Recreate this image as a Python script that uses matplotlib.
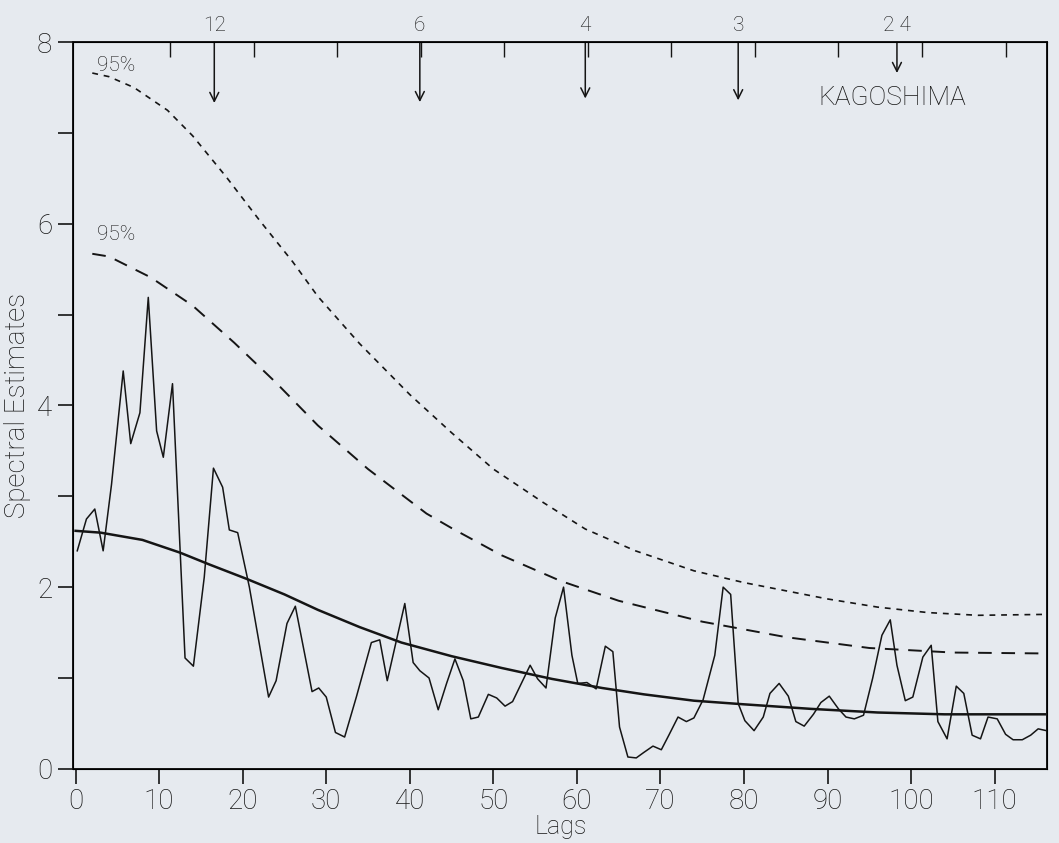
import matplotlib
matplotlib.use("Agg")
import matplotlib.pyplot as plt

# spectrum (jagged line)
spec_lag = [0.2, 1.3, 2.3, 3.3, 4.3, 5.7, 6.6, 7.7, 8.7, 9.7, 10.5, 11.6, 13.1, 14.1, 15.4,
            16.5, 17.6, 18.4, 19.4, 20.8, 23.1, 24.0, 25.3, 26.3, 28.3, 29.1, 30.0, 31.1,
            32.2, 33.6, 35.4, 36.4, 37.3, 39.4, 40.4, 41.2, 42.3, 43.4, 44.4, 45.4, 46.4,
            47.3, 48.2, 49.4, 50.4, 51.4, 52.3, 54.4, 55.3, 56.3, 57.4, 58.4, 59.4, 60.1,
            61.2, 62.3, 63.4, 64.3, 65.1, 66.1, 67.1, 68.0, 69.1, 70.1, 71.0, 72.1, 73.1,
            74.0, 75.1, 76.5, 77.5, 78.4, 79.3, 80.1, 81.2, 82.3, 83.1, 84.2, 85.3, 86.2,
            87.2, 88.3, 89.2, 90.2, 91.3, 92.2, 93.2, 94.3, 95.4, 96.5, 97.5, 98.3, 99.3,
            100.2, 101.4, 102.4, 103.2, 104.3, 105.4, 106.3, 107.3, 108.3, 109.2, 110.3,
            111.3, 112.2, 113.3, 114.3, 115.2, 116.2]
spec_val = [2.40, 2.75, 2.86, 2.40, 3.13, 4.38, 3.58, 3.92, 5.19, 3.72, 3.43, 4.24, 1.22, 1.13, 2.11,
            3.31, 3.10, 2.63, 2.60, 2.00, 0.79, 0.97, 1.60, 1.79, 0.85, 0.89, 0.79, 0.40,
            0.35, 0.79, 1.39, 1.42, 0.97, 1.82, 1.17, 1.08, 1.00, 0.65, 0.94, 1.21, 0.97,
            0.55, 0.57, 0.82, 0.78, 0.69, 0.74, 1.14, 0.99, 0.89, 1.66, 2.00, 1.25, 0.94,
            0.95, 0.88, 1.35, 1.29, 0.46, 0.13, 0.12, 0.18, 0.25, 0.21, 0.37, 0.57, 0.52,
            0.56, 0.76, 1.25, 2.00, 1.92, 0.72, 0.53, 0.42, 0.57, 0.83, 0.94, 0.80, 0.52,
            0.47, 0.60, 0.73, 0.80, 0.66, 0.57, 0.55, 0.59, 1.00, 1.47, 1.64, 1.14, 0.75,
            0.79, 1.23, 1.36, 0.52, 0.33, 0.91, 0.83, 0.37, 0.33, 0.57, 0.55,
            0.38, 0.32, 0.32, 0.37, 0.44, 0.42]

# smooth background spectrum
bg_lag = [0, 3, 8, 12.5, 16, 20.5, 25, 29, 34, 39, 45, 51, 57, 63, 68, 74, 80, 88, 96, 104, 116]
bg_val = [2.62, 2.60, 2.52, 2.38, 2.25, 2.09, 1.92, 1.75, 1.56, 1.39, 1.24, 1.11, 0.99, 0.89,
          0.82, 0.75, 0.71, 0.66, 0.62, 0.60, 0.60]

# confidence limits
c_lo_lag = [2, 4, 9, 14, 19, 24, 29, 35, 42, 45, 51, 58, 65, 75, 85, 95, 105, 116]
c_lo_val = [5.67, 5.64, 5.41, 5.10, 4.69, 4.25, 3.78, 3.30, 2.81, 2.65, 2.35, 2.07, 1.85,
            1.62, 1.45, 1.33, 1.28, 1.27]
c_hi_lag = [2, 4, 7, 11, 14, 18, 22, 26, 29, 34, 40, 45, 50, 56, 61, 67, 74, 80, 85, 90, 96,
            102, 108, 116]
c_hi_val = [7.66, 7.62, 7.50, 7.25, 6.97, 6.52, 6.04, 5.58, 5.20, 4.68, 4.12, 3.70, 3.30,
            2.93, 2.64, 2.40, 2.18, 2.05, 1.96, 1.87, 1.78, 1.72, 1.69, 1.70]

# period marks along the top
period_lag = [16.6, 41.2, 61.0, 79.3, 98.3]
period_tip = [7.33, 7.34, 7.38, 7.36, 7.66]
period_txt = ["12", "6", "4", "3", "2 4"]
top_ticks = [11.3, 21.3, 31.3, 41.3, 51.3, 61.3, 71.3, 81.3, 91.3, 101.3, 111.3]

bg = "#e6eaef"
ink = "#151515"
plt.rcParams["font.family"] = ["Roboto", "DejaVu Sans"]
plt.rcParams["font.weight"] = "light"
plt.rcParams["axes.labelweight"] = "light"

fig = plt.figure(figsize=(10.59, 8.43), dpi=100, facecolor=bg)
ax = fig.add_axes([0.069, 0.088, 0.920, 0.862])
ax.set_facecolor(bg)

ax.plot(spec_lag, spec_val, color=ink, lw=1.1)
ax.plot(bg_lag, bg_val, color=ink, lw=1.8)
ax.plot(c_lo_lag, c_lo_val, color=ink, lw=1.4, dashes=(7, 5))
ax.plot(c_hi_lag, c_hi_val, color=ink, lw=1.2, dashes=(3.5, 3.5))

ax.set_xlim(-0.3, 116.3)
ax.set_ylim(0, 8)
ax.set_xticks(range(0, 111, 10))
ax.set_yticks([0, 2, 4, 6, 8])
ax.set_yticks([1, 3, 5, 7], minor=True)
ax.tick_params(axis="both", which="both", direction="out", length=11, width=1.2,
               color=ink, labelcolor=ink, labelsize=20)
ax.tick_params(axis="x", pad=3)
ax.tick_params(axis="y", pad=4)
for s in ax.spines.values():
    s.set_color(ink)
    s.set_linewidth(1.4)

ax.set_xlabel("Lags", fontsize=18, color=ink, labelpad=0)
ax.set_ylabel("Spectral Estimates", fontsize=20, color=ink, labelpad=4)

top = ax.twiny()
top.set_xlim(ax.get_xlim())
top.set_xticks(top_ticks)
top.set_xticklabels([])
top.tick_params(axis="x", direction="in", length=11, width=1.0, color=ink)

for x, tip, t in zip(period_lag, period_tip, period_txt):
    ax.annotate("", xy=(x, tip), xytext=(x, 8.0),
                arrowprops=dict(arrowstyle="->", color=ink, lw=1.1,
                                mutation_scale=16, shrinkA=0, shrinkB=0))
    ax.text(x, 8.08, t, ha="center", va="bottom", fontsize=15, color=ink, clip_on=False)

ax.text(2.6, 7.74, "95%", fontsize=15, color=ink, va="center", ha="left")
ax.text(2.6, 5.88, "95%", fontsize=15, color=ink, va="center", ha="left")
ax.text(88.9, 7.38, "KAGOSHIMA", fontsize=19, color=ink, va="center", ha="left")

fig.savefig("out.png", dpi=100, facecolor=bg)
